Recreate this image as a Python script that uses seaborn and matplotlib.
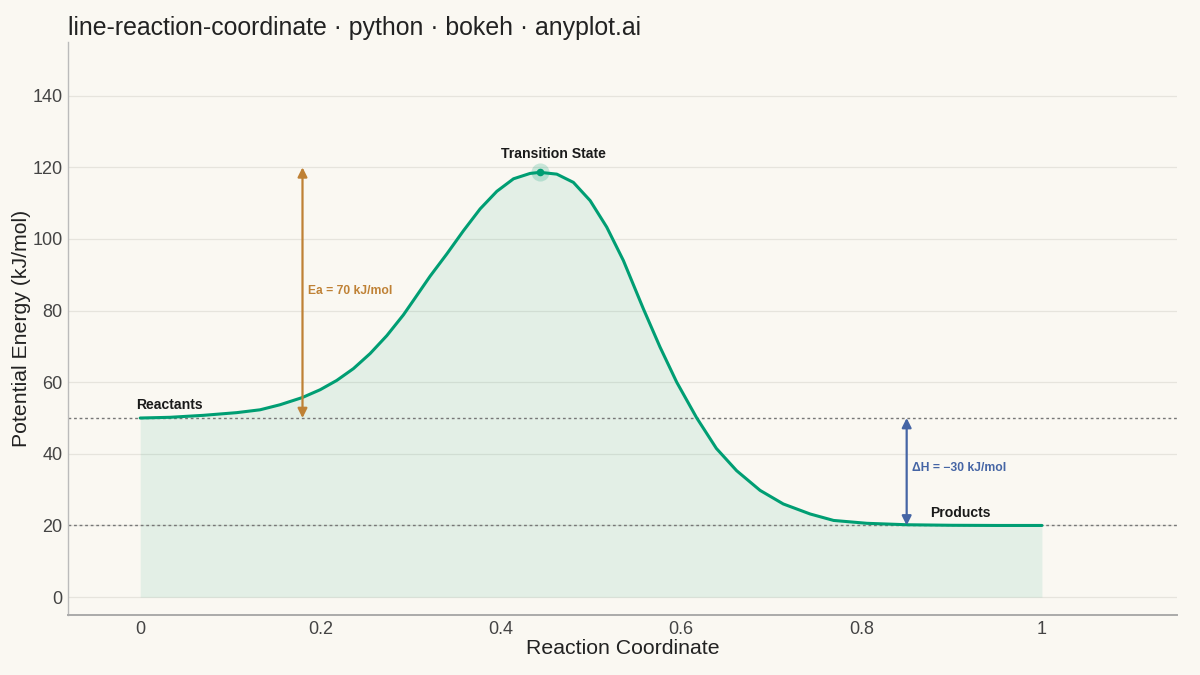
import matplotlib
matplotlib.use("Agg")
import matplotlib.pyplot as plt
import seaborn as sns
import pandas as pd

# ---- data ----
reaction_coord = [0.000, 0.033, 0.070, 0.107, 0.133, 0.155, 0.1796, 0.1996, 0.218,
                  0.2365, 0.255, 0.2735, 0.2919, 0.3029, 0.3215, 0.340, 0.3585,
                  0.377, 0.3955, 0.414, 0.4324, 0.4435, 0.462, 0.4804, 0.499,
                  0.5174, 0.5358, 0.558, 0.5765, 0.595, 0.617, 0.639, 0.6614,
                  0.6874, 0.7132, 0.743, 0.769, 0.806, 0.850, 0.900, 0.950, 1.000]
energy = [50.0, 50.2, 50.75, 51.5, 52.3, 53.7, 55.7, 57.9, 60.5,
          63.8, 68.0, 73.0, 78.8, 82.8, 89.6, 95.8, 102.3,
          108.4, 113.3, 116.8, 118.3, 118.6, 118.1, 115.8, 110.7,
          103.3, 94.0, 80.5, 69.8, 60.0, 50.1, 41.5, 35.3,
          29.8, 26.0, 23.2, 21.4, 20.6, 20.2, 20.05, 20.0, 20.0]
reactant_energy = 50
product_energy = 20
ts_coord = 0.4435
ts_energy = 118.6
y_ticks = [0, 20, 40, 60, 80, 100, 120, 140]
x_ticks = [0, 0.2, 0.4, 0.6, 0.8, 1.0]
x_tick_labels = ["0", "0.2", "0.4", "0.6", "0.8", "1"]

df = pd.DataFrame({"Reaction Coordinate": reaction_coord, "Potential Energy": energy})

BG = "#FAF8F2"
GREEN = "#009E73"
ORANGE = "#BF8135"
BLUE = "#4565A5"

sns.set_theme(style="white")
plt.rcParams["font.family"] = ["Liberation Sans", "DejaVu Sans"]

fig = plt.figure(figsize=(12, 6.75), dpi=100, facecolor=BG)
ax = fig.add_axes([0.0567, 0.0889, 0.9243, 0.8489])
ax.set_facecolor(BG)

# fill under curve
ax.fill_between(df["Reaction Coordinate"], 0, df["Potential Energy"],
                color=GREEN, alpha=0.09, linewidth=0, zorder=1)

# reference dotted lines
for lvl in (reactant_energy, product_energy):
    ax.axhline(lvl, color="#777777", linestyle=(0, (2, 2)), linewidth=1.0, zorder=2)

sns.lineplot(data=df, x="Reaction Coordinate", y="Potential Energy", ax=ax,
             color=GREEN, linewidth=2.2, zorder=4)
for ln in ax.lines:
    ln.set_solid_joinstyle("round")
    ln.set_solid_capstyle("round")

# transition state marker with halo
ax.scatter([ts_coord], [ts_energy], s=170, color=GREEN, alpha=0.2, linewidths=0, zorder=5)
ax.scatter([ts_coord], [ts_energy], s=30, color=GREEN, linewidths=0, zorder=6)

# Ea arrow
ax.annotate("", xy=(0.18, ts_energy + 1.4), xytext=(0.18, reactant_energy),
            arrowprops=dict(arrowstyle="<|-|>", color=ORANGE, lw=1.6,
                            mutation_scale=14, shrinkA=0, shrinkB=0), zorder=7)
ax.text(0.186, 85.6, "Ea = 70 kJ/mol", color=ORANGE, fontsize=8.7,
        fontweight="bold", va="center", ha="left", zorder=8)

# ΔH arrow
ax.annotate("", xy=(0.85, reactant_energy), xytext=(0.85, product_energy),
            arrowprops=dict(arrowstyle="<|-|>", color=BLUE, lw=1.6,
                            mutation_scale=14, shrinkA=0, shrinkB=0), zorder=7)
ax.text(0.856, 36.0, "ΔH = −30 kJ/mol", color=BLUE, fontsize=8.7,
        fontweight="bold", va="center", ha="left", zorder=8)

# state labels
ax.text(ts_coord + 0.015, 123.8, "Transition State", fontsize=10.1, fontweight="bold",
        color="#1a1a1a", ha="center", va="center", zorder=8)
ax.text(-0.004, 53.5, "Reactants", fontsize=10.1, fontweight="bold",
        color="#1a1a1a", ha="left", va="center", zorder=8)
ax.text(0.909, 23.6, "Products", fontsize=10.1, fontweight="bold",
        color="#1a1a1a", ha="center", va="center", zorder=8)

ax.set_xlim(-0.08, 1.15)
ax.set_ylim(-5, 155)
ax.set_yticks(y_ticks)
ax.set_xticks(x_ticks)
ax.set_xticklabels(x_tick_labels)
ax.yaxis.grid(True, color="#E6E4DD", linewidth=0.9, zorder=0)
ax.xaxis.grid(False)
ax.set_axisbelow(True)

for side in ("top", "right"):
    ax.spines[side].set_visible(False)
ax.spines["left"].set_color("#BBBBBB")
ax.spines["left"].set_linewidth(1.0)
ax.spines["bottom"].set_color("#AAAAAA")
ax.spines["bottom"].set_linewidth(1.4)

ax.tick_params(axis="both", labelsize=13, labelcolor="#444444", length=3, width=0.8,
               direction="out", color="#AAAAAA", pad=1.0)

ax.set_xlabel("Reaction Coordinate", fontsize=15.3, color="#222222")
ax.set_ylabel("Potential Energy (kJ/mol)", fontsize=15.3, color="#222222")
ax.xaxis.set_label_coords(0.5, -0.042)
ax.yaxis.set_label_coords(-0.033, 0.5)

fig.text(0.0567, 0.958, "line-reaction-coordinate · python · bokeh · anyplot.ai",
         fontsize=17.9, color="#222222", ha="left", va="center")

fig.savefig("out.png", dpi=100, facecolor=BG)
